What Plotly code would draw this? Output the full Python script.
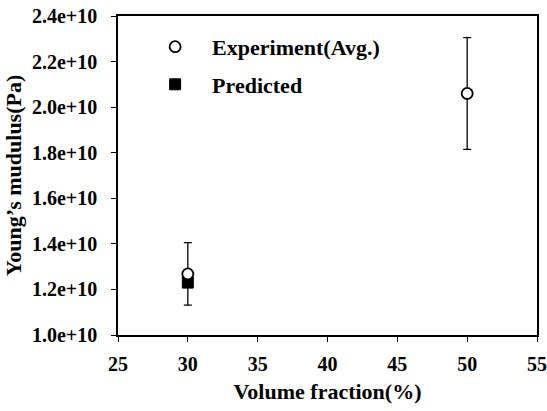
import plotly.graph_objects as go

volume_fraction = [30, 50]
exp_avg = [1.268e10, 2.06e10]
exp_err = [0.137e10, 0.245e10]
pred_x = [30]
pred_vals = [1.23e10]

x_ticks = [25, 30, 35, 40, 45, 50, 55]
y_ticks = [1.0e10, 1.2e10, 1.4e10, 1.6e10, 1.8e10, 2.0e10, 2.2e10, 2.4e10]

FONT = "Liberation Serif"

fig = go.Figure()
fig.add_trace(go.Scatter(
    x=pred_x, y=pred_vals, mode="markers", name="Predicted",
    legendgroup="b", legendrank=2,
    marker=dict(symbol="square", size=11, color="black",
                line=dict(color="black", width=1)),
))
fig.add_trace(go.Scatter(
    x=volume_fraction, y=exp_avg, mode="markers", name="Experiment(Avg.)",
    legendgroup="a", legendrank=1,
    marker=dict(symbol="circle", size=11, color="white",
                line=dict(color="black", width=1.8)),
    error_y=dict(type="data", array=exp_err, visible=True,
                 color="black", thickness=1.3, width=4),
))

axis_common = dict(
    showgrid=False, zeroline=False, showline=True, linecolor="black",
    linewidth=1.6, mirror=True, ticks="outside", ticklen=5,
    tickcolor="black", tickwidth=1.3, automargin=False,
    ticklabeloverflow="allow",
    tickfont=dict(family=FONT, size=20, color="black", weight="bold"),
)

fig.update_layout(
    width=547, height=411,
    margin=dict(l=118, r=10, t=16, b=76),
    paper_bgcolor="white", plot_bgcolor="white",
    xaxis=dict(range=[25, 55], tickvals=x_ticks, ticklabelstandoff=5, **axis_common,
               title=dict(text="Volume fraction(%)", standoff=10,
                          font=dict(family=FONT, size=22, color="black", weight="bold"))),
    yaxis=dict(range=[1.0e10, 2.4e10], tickvals=y_ticks, tickformat=".1e",
               ticklabelstandoff=10, **axis_common,
               title=dict(text="Young’s mudulus(Pa)", standoff=4,
                          font=dict(family=FONT, size=22, color="black", weight="bold"))),
    legend=dict(x=0.048, y=0.969, xanchor="left", yanchor="top",
                bgcolor="rgba(0,0,0,0)", borderwidth=0,
                itemwidth=64, traceorder="grouped", tracegroupgap=6,
                font=dict(family=FONT, size=22, color="black", weight="bold")),
    showlegend=True,
)

fig.write_html("out.html", config={"displayModeBar": False},
               post_script="document.body.style.margin='0';")
